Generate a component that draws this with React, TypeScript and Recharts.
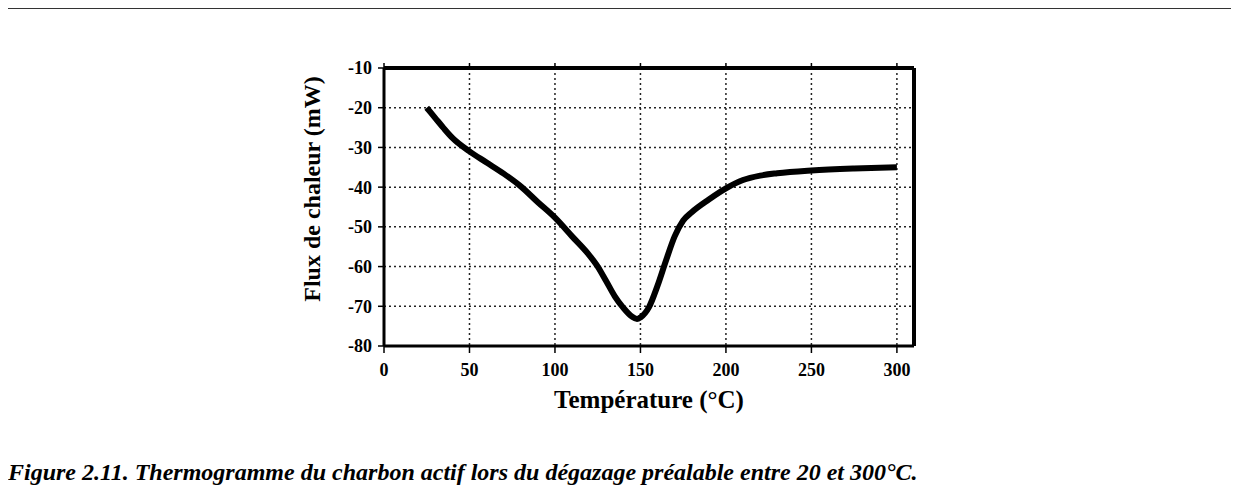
import React from "react";
import { LineChart, Line, XAxis, YAxis, CartesianGrid, Label } from "recharts";

const temperature = [
  25, 30, 35, 40, 50, 60, 70, 80, 90, 100, 110, 120, 125, 130, 135, 140, 145,
  148, 150, 155, 160, 165, 170, 175, 180, 190, 200, 210, 220, 230, 250, 275, 300,
];
const flux = [
  -20, -22.6, -25.2, -27.6, -31, -33.8, -36.6, -39.8, -43.8, -47.7, -52.4,
  -57.1, -60, -63.7, -67.5, -70.4, -72.6, -73.2, -72.8, -70.2, -64.8, -58.4,
  -52.4, -48.4, -46.3, -43.1, -40.3, -38.2, -37.1, -36.5, -35.8, -35.3, -35,
];
const xTicks = [0, 50, 100, 150, 200, 250, 300];
const yTicks = [-80, -70, -60, -50, -40, -30, -20, -10];

const data = temperature.map((t, i) => ({ t, flux: flux[i] }));

const serif = "'Liberation Serif', 'Times New Roman', serif";
const tickStyle = { fontFamily: serif, fontWeight: 700, fontSize: 18, fill: "#000" };

const App = () => {
  return (
    <div style={{ position: "relative", width: 1239, height: 495, margin: -8, background: "#fff" }}>
      <LineChart
        width={1239}
        height={495}
        data={data}
        margin={{ top: 58, right: 315, bottom: 119, left: 314 }}
      >
        <CartesianGrid stroke="#222" strokeWidth={1.5} strokeDasharray="2 3" />
        <XAxis
          dataKey="t"
          type="number"
          domain={[0, 310]}
          ticks={xTicks}
          allowDataOverflow
          height={30}
          axisLine={{ stroke: "#000", strokeWidth: 3 }}
          tickLine={{ stroke: "#000", strokeWidth: 1.5 }}
          tickSize={7}
          tickMargin={10}
          tick={tickStyle}
        >
          <Label
            content={(p: any) => {
              const vb = p.viewBox || {};
              const cx = vb.x + vb.width / 2;
              return (
                <text
                  x={cx}
                  y={408}
                  textAnchor="middle"
                  fontFamily={serif}
                  fontWeight={700}
                  fontSize={25}
                  fill="#000"
                >
                  Température (°C)
                </text>
              );
            }}
          />
        </XAxis>
        <XAxis
          xAxisId="top"
          dataKey="t"
          type="number"
          orientation="top"
          domain={[0, 310]}
          ticks={xTicks}
          height={10}
          axisLine={{ stroke: "#000", strokeWidth: 4 }}
          tickLine={{ stroke: "#000", strokeWidth: 1.5 }}
          tickSize={5}
          tickFormatter={() => ""}
        />
        <YAxis
          type="number"
          domain={[-80, -10]}
          ticks={yTicks}
          width={70}
          axisLine={{ stroke: "#000", strokeWidth: 3 }}
          tickLine={{ stroke: "#000", strokeWidth: 1.5 }}
          tickSize={6}
          tickMargin={6}
          tick={tickStyle}
        >
          <Label
            content={(p: any) => {
              const vb = p.viewBox || {};
              const cx = vb.x - 2;
              const cy = vb.y + vb.height / 2 - 18;
              return (
                <text
                  x={cx}
                  y={cy}
                  transform={`rotate(-90, ${cx}, ${cy})`}
                  textAnchor="middle"
                  dominantBaseline="central"
                  fontFamily={serif}
                  fontWeight={700}
                  fontSize={24}
                  fill="#000"
                >
                  Flux de chaleur (mW)
                </text>
              );
            }}
          />
        </YAxis>
        <YAxis
          yAxisId="right"
          type="number"
          orientation="right"
          domain={[-80, -10]}
          ticks={yTicks}
          width={10}
          axisLine={{ stroke: "#000", strokeWidth: 4 }}
          tickLine={{ stroke: "#000", strokeWidth: 1.5 }}
          tickSize={6}
          tickFormatter={() => ""}
        />
        <Line
          type="monotone"
          dataKey="flux"
          stroke="#000"
          strokeWidth={6}
          dot={false}
          isAnimationActive={false}
        />
      </LineChart>
      <div
        style={{
          position: "absolute",
          left: 8,
          top: 458,
          fontFamily: serif,
          fontWeight: 700,
          fontStyle: "italic",
          fontSize: 24,
          lineHeight: "28px",
          whiteSpace: "nowrap",
          color: "#000",
        }}
      >
        Figure 2.11. Thermogramme du charbon actif lors du dégazage préalable entre 20 et 300°C.
      </div>
      <div
        style={{
          position: "absolute",
          left: 3,
          top: 7,
          width: 1236,
          height: 2,
          background: "#333",
          pointerEvents: "none",
        }}
      />
      <div
        style={{
          position: "absolute",
          left: 4,
          top: 7,
          width: 2,
          height: 488,
          background: "repeating-linear-gradient(to bottom, #555 0px, #555 2px, #fff 2px, #fff 3px)",
          pointerEvents: "none",
        }}
      />
    </div>
  );
};

export default App;
